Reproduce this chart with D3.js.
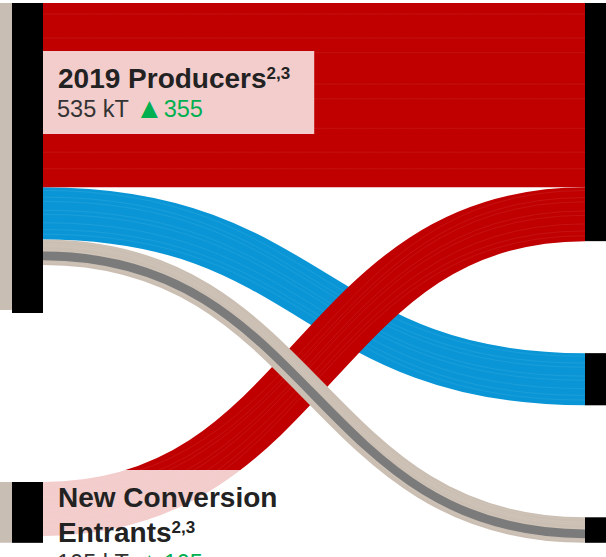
<!DOCTYPE html>
<html><head><meta charset="utf-8">
<script src="https://cdn.jsdelivr.net/npm/d3@7"></script>
<style>body{margin:0;background:#fff}svg{display:block}</style>
</head><body>
<svg id="c" width="606" height="557"></svg>
<script>
// ---- data ----
const nodeNames   = ["2019 Producers", "New Conversion Entrants", "Destination A", "Destination B", "Destination C"];
const nodeColumns = [0, 0, 1, 1, 1];
const nodeValues  = [535, 105, 411, 90, 44];
const inflowValues = [530, 105];            // flows arriving from off-chart at the left nodes
const linkSources = [0, 0, 0, 1];
const linkTargets = [2, 3, 4, 2];
const linkValues  = [318, 90, 44, 93];
const linkColors  = ["#c00000", "#0a96d6", "#cbbfb3", "#c00000"];
const subFlowLink = 2, subFlowOffset = 21, subFlowValue = 15;  // grey strand inside beige link
const labelNodes  = [0, 1];
const labelTitleLines = [["2019 Producers"], ["New Conversion", "Entrants"]];
const labelSup    = ["2,3", "2,3"];
const labelValues = ["535 kT", "105 kT"];
const labelDeltas = ["355", "105"];
// faint strand lines (visual texture of the many merged sub-flows)
const strandFractions = [0.06, 0.19, 0.27, 0.44, 0.52, 0.68, 0.81, 0.9];

// ---- layout ----
const svg = d3.select("#c");
const v = d3.scaleLinear().domain([0, 535]).range([0, 310]);
const colX = [[12, 43], [585, 615]];
const colTop = 3;
const colPad = [169, 112];

const nodes = nodeNames.map((n, i) => ({name: n, col: nodeColumns[i], value: nodeValues[i], outOff: 0, inOff: 0}));
[0, 1].forEach(c => {
  let y = colTop;
  nodes.filter(n => n.col === c).forEach(n => {
    n.y0 = y; n.y1 = y + v(n.value); n.x0 = colX[c][0]; n.x1 = colX[c][1];
    y = n.y1 + colPad[c];
  });
});
const links = linkValues.map((val, i) => {
  const s = nodes[linkSources[i]], t = nodes[linkTargets[i]];
  const w = v(val);
  const l = {w, color: linkColors[i], sy: s.y0 + s.outOff + w / 2, ty: t.y0 + t.inOff + w / 2, sx: s.x1, tx: t.x0, sTop: s.y0 + s.outOff, tTop: t.y0 + t.inOff};
  s.outOff += w; t.inOff += w;
  return l;
});
const linkGen = d3.linkHorizontal().x(d => d[0]).y(d => d[1]);

// inflow links from off-chart
svg.append("g").selectAll("path").data(inflowValues).join("path")
  .attr("d", (val, i) => { const n = nodes[i]; const ym = n.y0 + v(val) / 2; return linkGen({source: [-200, ym], target: [n.x0, ym]}); })
  .attr("fill", "none").attr("stroke", "#c9beb3").attr("stroke-width", val => v(val));

function drawLink(l) {
  const g = svg.append("g");
  g.append("path")
    .attr("d", linkGen({source: [l.sx, l.sy], target: [l.tx, l.ty]}))
    .attr("fill", "none").attr("stroke", l.color).attr("stroke-width", l.w);
  g.selectAll("path.strand").data(strandFractions).join("path").attr("class", "strand")
    .attr("d", f => linkGen({source: [l.sx, l.sTop + f * l.w], target: [l.tx, l.tTop + f * l.w]}))
    .attr("fill", "none").attr("stroke", "#fff").attr("stroke-opacity", 0.09).attr("stroke-width", 0.8);
}
// links: blue first, then red, then beige
[1, 0, 3, 2].forEach(i => drawLink(links[i]));

// grey strand inside beige link
const sl = links[subFlowLink];
const sw = v(subFlowValue);
svg.append("path")
  .attr("d", linkGen({source: [sl.sx, sl.sTop + v(subFlowOffset) + sw / 2], target: [sl.tx, sl.tTop + v(subFlowOffset) + sw / 2]}))
  .attr("fill", "none").attr("stroke", "#7b7b7b").attr("stroke-width", sw);

// nodes
svg.append("g").selectAll("rect").data(nodes).join("rect")
  .attr("x", n => n.x0).attr("y", n => n.y0)
  .attr("width", n => n.x1 - n.x0).attr("height", n => n.y1 - n.y0)
  .attr("fill", "#000");

// labels
const labelBaseOffset = [85, 25];
const font = "'Liberation Sans', Arial, sans-serif";
labelNodes.forEach((ni, i) => {
  const n = nodes[ni];
  const g = svg.append("g");
  const box = g.append("rect").attr("fill", "#fff").attr("fill-opacity", 0.8);
  const tx = 58;
  let by = n.y0 + labelBaseOffset[i];
  const lines = labelTitleLines[i];
  const texts = [];
  lines.forEach((ln, j) => {
    const t = g.append("text").attr("x", tx).attr("y", by + j * 35)
      .attr("font-family", font).attr("font-weight", "bold").attr("font-size", 28).attr("fill", "#222").text(ln);
    if (j === lines.length - 1) {
      t.append("tspan").attr("font-size", 17).attr("dy", -9).text(labelSup[i]);
    }
    texts.push(t);
  });
  const vy = by + (lines.length - 1) * 35 + 29;
  const vt = g.append("text").attr("x", tx - 1).attr("y", vy)
    .attr("font-family", font).attr("font-size", 23.5).attr("fill", "#333");
  vt.append("tspan").text(labelValues[i] + " ");
  vt.append("tspan").attr("fill", "#00b050").attr("font-size", 29).attr("dy", 1).text("\u25B2");
  vt.append("tspan").attr("fill", "#00b050").attr("dy", -1).text(labelDeltas[i]);
  let maxR = 0;
  texts.concat([vt]).forEach(t => { const b = t.node().getBBox(); maxR = Math.max(maxR, b.x + b.width); });
  const top = by - 37;
  box.attr("x", n.x1).attr("y", top).attr("width", maxR + 24 - n.x1).attr("height", vy + 17 - top);
});
</script>
</body></html>
